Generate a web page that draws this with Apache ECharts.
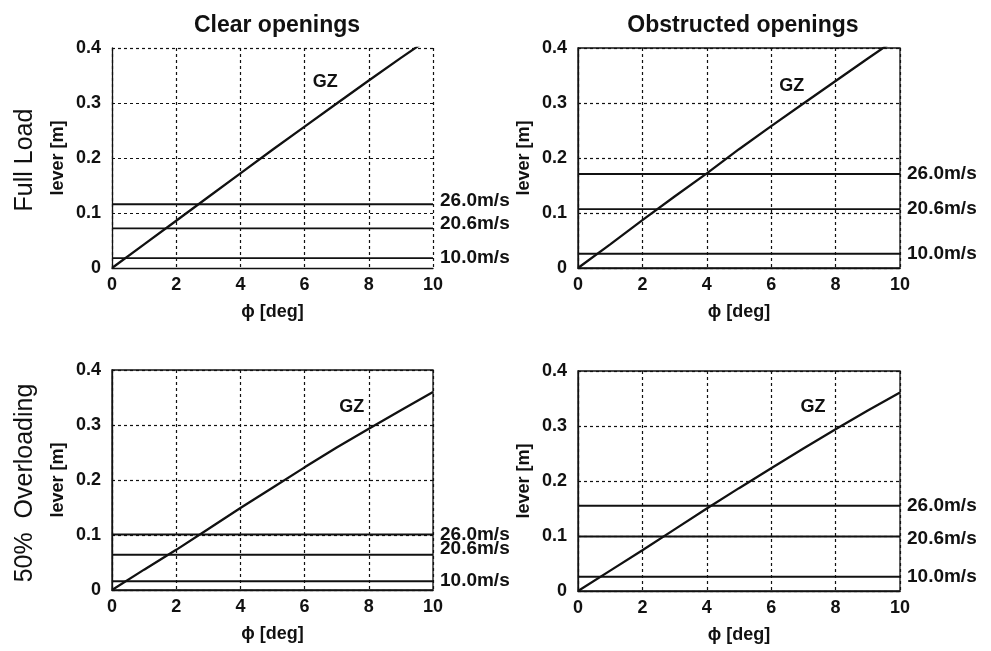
<!DOCTYPE html>
<html>
<head>
<meta charset="utf-8">
<script src="https://cdn.jsdelivr.net/npm/echarts@6/dist/echarts.min.js"></script>
<style>
  html, body { margin: 0; padding: 0; background: #fff; }
  #chart { width: 991px; height: 651px; }
</style>
</head>
<body>
<div id="chart"></div>
<script>
// Heel angle samples [deg]
const phi = [0, 1, 2, 3, 4, 5, 6, 7, 8, 9, 10];

// GZ righting lever curves [m]
const gzFullClear = [0, 0.043, 0.086, 0.129, 0.172, 0.215, 0.257, 0.299, 0.341, 0.382, 0.422];
const gzFullObst  = [0, 0.043, 0.087, 0.130, 0.172, 0.216, 0.258, 0.299, 0.340, 0.381, 0.421];
const gzOverClear = [0, 0.037, 0.073, 0.111, 0.149, 0.186, 0.223, 0.259, 0.293, 0.327, 0.360];
const gzOverObst  = [0, 0.037, 0.074, 0.112, 0.150, 0.187, 0.223, 0.259, 0.294, 0.328, 0.361];

// Wind heeling levers [m] for each wind speed
const windSpeeds     = ['26.0m/s', '20.6m/s', '10.0m/s'];
const windFullClear  = [0.116, 0.072, 0.018];
const windFullObst   = [0.171, 0.107, 0.026];
const windOverClear  = [0.101, 0.064, 0.016];
const windOverObst   = [0.155, 0.099, 0.026];

// Axis ticks
const xTicks = [0, 2, 4, 6, 8, 10];
const yTicks = [0, 0.1, 0.2, 0.3, 0.4];

const columnTitles = ['Clear openings', 'Obstructed openings'];
const rowTitles = ['Full Load', '50%  Overloading'];

const FONT = '"Liberation Sans", Arial, Helvetica, sans-serif';
const INK = '#111';

// Panel layout: grids and per-panel label tweaks
const panels = [
  { gz: gzFullClear, wind: windFullClear, grid: { left: 112, top: 48, width: 321, height: 220 }, border: false,
    labelDy: [-3, -5, 0], gzAt: [6.64, 0.339] },
  { gz: gzFullObst,  wind: windFullObst,  grid: { left: 578, top: 48, width: 322, height: 220 }, border: true,
    labelDy: [0, 0, 0], gzAt: [6.64, 0.331] },
  { gz: gzOverClear, wind: windOverClear, grid: { left: 112, top: 370, width: 321, height: 220 }, border: true,
    labelDy: [0, -6, 0], gzAt: [7.47, 0.333] },
  { gz: gzOverObst,  wind: windOverObst,  grid: { left: 578, top: 371, width: 322, height: 220 }, border: true,
    labelDy: [0, 2, 0], gzAt: [7.30, 0.335] }
];

const grids = [], xAxes = [], yAxes = [], series = [];

panels.forEach((p, i) => {
  grids.push(Object.assign({
    show: p.border,
    borderColor: INK,
    borderWidth: 1.3,
    backgroundColor: 'transparent'
  }, p.grid));

  xAxes.push({
    type: 'value', gridIndex: i,
    min: xTicks[0], max: xTicks[xTicks.length - 1], interval: xTicks[1] - xTicks[0],
    name: '\u03d5 [deg]', nameLocation: 'middle', nameGap: 35,
    nameTextStyle: { fontFamily: FONT, fontWeight: 'bold', fontSize: 18, color: INK },
    axisLine: { show: true, onZero: false, lineStyle: { color: INK, width: 1.3 } },
    axisTick: { show: false },
    axisLabel: { fontFamily: FONT, fontWeight: 'bold', fontSize: 18, color: INK, margin: 8 },
    splitLine: { show: true, lineStyle: { color: INK, type: [3, 3], width: 1.2 } }
  });

  yAxes.push({
    type: 'value', gridIndex: i,
    min: yTicks[0], max: yTicks[yTicks.length - 1], interval: 0.1,
    name: 'lever [m]', nameLocation: 'middle', nameGap: 45, nameRotate: 90,
    nameTextStyle: { fontFamily: FONT, fontWeight: 'bold', fontSize: 18, color: INK },
    axisLine: { show: true, onZero: false, lineStyle: { color: INK, width: 1.3 } },
    axisTick: { show: false },
    axisLabel: { fontFamily: FONT, fontWeight: 'bold', fontSize: 18, color: INK, margin: 11,
      formatter: v => (v === 0 ? '0' : v.toFixed(1)) },
    splitLine: { show: true, lineStyle: { color: INK, type: [3, 3], width: 1.2 } }
  });

  // Righting lever curve
  series.push({
    type: 'line', name: 'GZ', xAxisIndex: i, yAxisIndex: i,
    data: phi.map((x, k) => [x, p.gz[k]]),
    showSymbol: false, smooth: false, clip: true,
    lineStyle: { color: INK, width: 2.3 },
    silent: true,
    markPoint: {
      symbol: 'circle', symbolSize: 0, silent: true,
      label: { show: true, formatter: 'GZ', position: 'inside',
        fontFamily: FONT, fontWeight: 'bold', fontSize: 18, color: INK },
      data: [{ coord: p.gzAt }]
    },
    z: 5
  });

  // Wind heeling levers
  p.wind.forEach((v, k) => {
    series.push({
      type: 'line', name: windSpeeds[k], xAxisIndex: i, yAxisIndex: i,
      symbol: 'circle', symbolSize: 0, showSymbol: true,
      lineStyle: { color: INK, width: 1.9 },
      silent: true,
      data: [
        [phi[0], v],
        { value: [phi[phi.length - 1], v],
          label: { show: true, position: 'right', distance: 7, offset: [0, p.labelDy[k]],
            formatter: windSpeeds[k],
            fontFamily: FONT, fontWeight: 'bold', fontSize: 19, color: INK } }
      ],
      z: 4
    });
  });
});

const chart = echarts.init(document.getElementById('chart'), null, { renderer: 'canvas' });
chart.setOption({
  animation: false,
  backgroundColor: '#fff',
  title: [
    { text: columnTitles[0], left: 272, top: 9, textAlign: 'center',
      textStyle: { fontFamily: FONT, fontWeight: 'bold', fontSize: 23, color: INK } },
    { text: columnTitles[1], left: 738, top: 9, textAlign: 'center',
      textStyle: { fontFamily: FONT, fontWeight: 'bold', fontSize: 23, color: INK } }
  ],
  graphic: [
    { type: 'text', x: 25, y: 160, rotation: Math.PI / 2,
      style: { text: rowTitles[0], fontFamily: FONT, fontSize: 25, fill: INK,
        align: 'center', verticalAlign: 'middle' } },
    { type: 'text', x: 25, y: 483, rotation: Math.PI / 2,
      style: { text: rowTitles[1], fontFamily: FONT, fontSize: 25, fill: INK,
        align: 'center', verticalAlign: 'middle' } }
  ],
  grid: grids,
  xAxis: xAxes,
  yAxis: yAxes,
  series: series
});
</script>
</body>
</html>
